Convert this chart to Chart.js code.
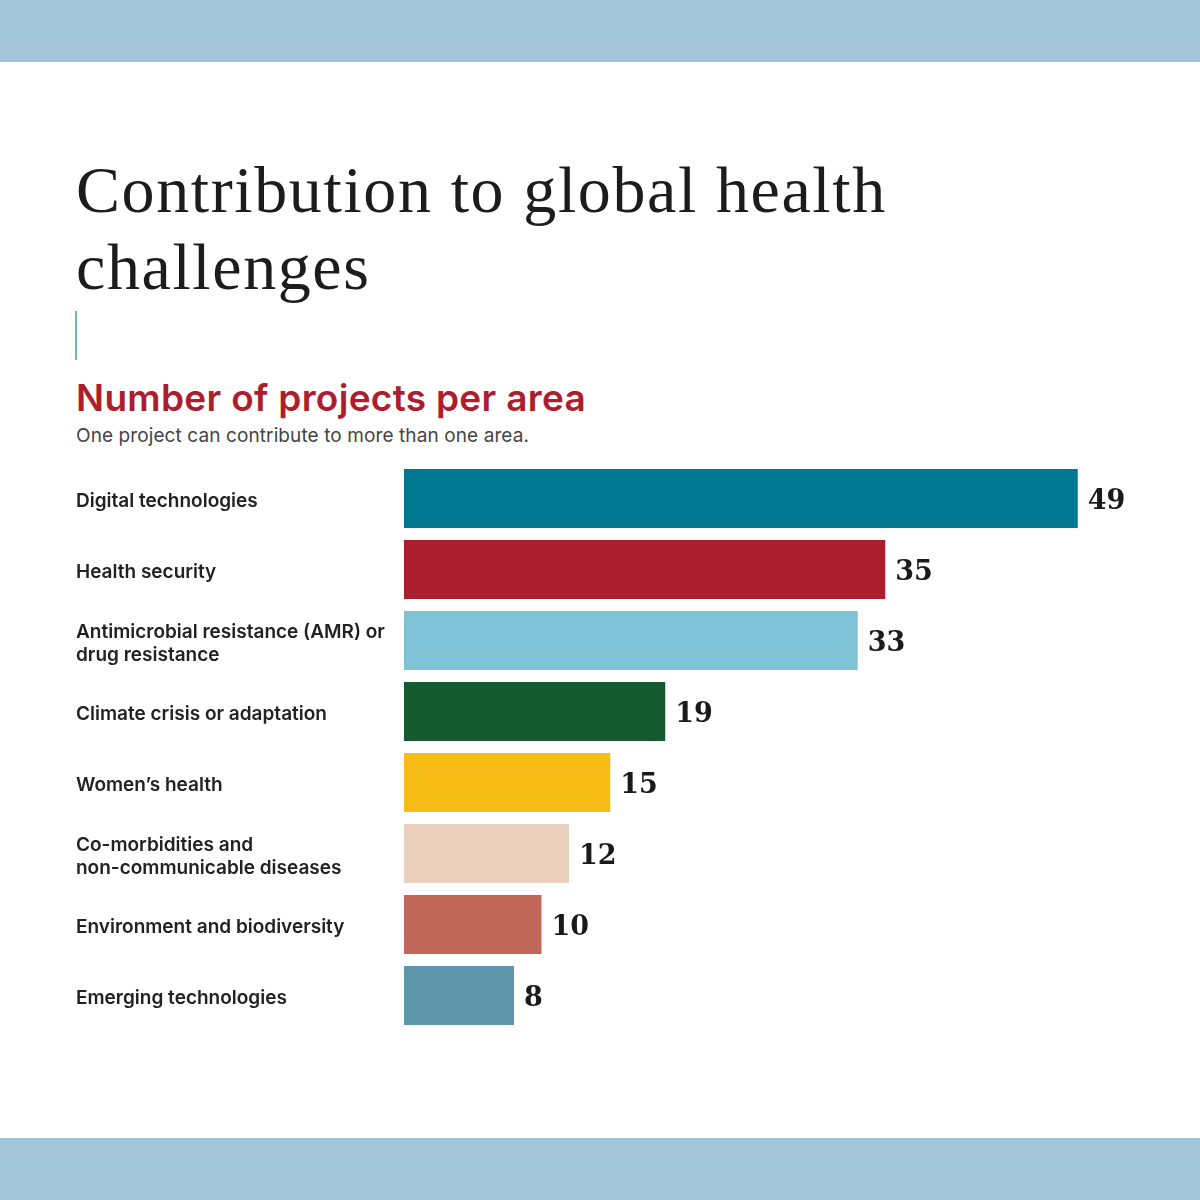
<!DOCTYPE html>
<html lang="en">
<head>
    <meta charset="UTF-8">
    <title>Contribution to global health challenges</title>
    <script src="https://cdn.jsdelivr.net/npm/chart.js"></script>
    <style>
        body { margin: 0; background: #fff; }
        #page { position: relative; width: 1200px; height: 1200px; overflow: hidden; }
        .band { position: absolute; left: 0; width: 1200px; height: 62px; background: #a3c5da; }
        #title { position: absolute; left: 76px; top: 151px; font-family: "Liberation Serif", serif;
                 font-size: 66px; line-height: 77px; color: #1c1c1c; margin: 0; font-weight: normal;
                 letter-spacing: 1.6px; }
        #rule { position: absolute; left: 75px; top: 311px; width: 2px; height: 49px; background: #6fb3bd; }
        #sub { position: absolute; left: 76px; top: 379px; font-family: Inter, sans-serif; font-weight: 600;
               font-size: 37px; line-height: 37px; color: #ac1e2d; letter-spacing: 0.3px; }
        #note { position: absolute; left: 76px; top: 426px; font-family: Inter, sans-serif;
                font-size: 19px; line-height: 19px; color: #444; letter-spacing: 0.1px; }
        #wrap { position: absolute; left: 0; top: 449px; width: 1200px; height: 596px; }
    </style>
</head>
<body>
<div id="page">
    <div class="band" style="top:0"></div>
    <div class="band" style="top:1138px"></div>
    <h1 id="title">Contribution to global health<br>challenges</h1>
    <div id="rule"></div>
    <div id="sub">Number of projects per area</div>
    <div id="note">One project can contribute to more than one area.</div>
    <div id="wrap"><canvas id="myChart"></canvas></div>
</div>

<script>
    // chart data
    const areas = [
        'Digital technologies',
        'Health security',
        ['Antimicrobial resistance (AMR) or', 'drug resistance'],
        'Climate crisis or adaptation',
        'Women\u2019s health',
        ['Co-morbidities and', 'non-communicable diseases'],
        'Environment and biodiversity',
        'Emerging technologies'
    ];
    const projects = [49, 35, 33, 19, 15, 12, 10, 8];
    const barColors = ['#007891', '#ac1e2d', '#80c3d6', '#165a30', '#f7bc16', '#ebd0bf', '#c0675a', '#5e97ab'];

    // write the value just right of each bar
    const valueLabels = {
        id: 'valueLabels',
        afterDatasetsDraw(chart) {
            const ctx = chart.ctx;
            const meta = chart.getDatasetMeta(0);
            ctx.save();
            ctx.font = 'bold 27px "DejaVu Serif", serif';
            ctx.fillStyle = '#1a1a1a';
            ctx.textAlign = 'left';
            ctx.textBaseline = 'middle';
            meta.data.forEach((bar, i) => {
                ctx.fillText(projects[i], bar.x + 10, bar.y + 3);
            });
            ctx.restore();
        }
    };

    const ctx = document.getElementById('myChart').getContext('2d');
    const myChart = new Chart(ctx, {
        type: 'bar',
        data: {
            labels: areas,
            datasets: [{
                data: projects,
                backgroundColor: barColors,
                borderWidth: 0,
                barPercentage: 0.83,
                categoryPercentage: 1
            }]
        },
        options: {
            indexAxis: 'y',
            responsive: true,
            maintainAspectRatio: false,
            animation: false,
            layout: { padding: { left: 76, right: 26, top: 14, bottom: 14 } },
            plugins: { legend: { display: false }, tooltip: { enabled: false } },
            scales: {
                x: { display: false, min: 0, max: 56 },
                y: {
                    grid: { display: false },
                    border: { display: false },
                    afterFit(scale) { scale.width = 328; },
                    ticks: {
                        crossAlign: 'far',
                        padding: 0,
                        labelOffset: 3,
                        color: '#222',
                        font: { family: 'Inter', size: 19, weight: '600', lineHeight: 1.2 }
                    }
                }
            }
        },
        plugins: [valueLabels]
    });
</script>
</body>
</html>
